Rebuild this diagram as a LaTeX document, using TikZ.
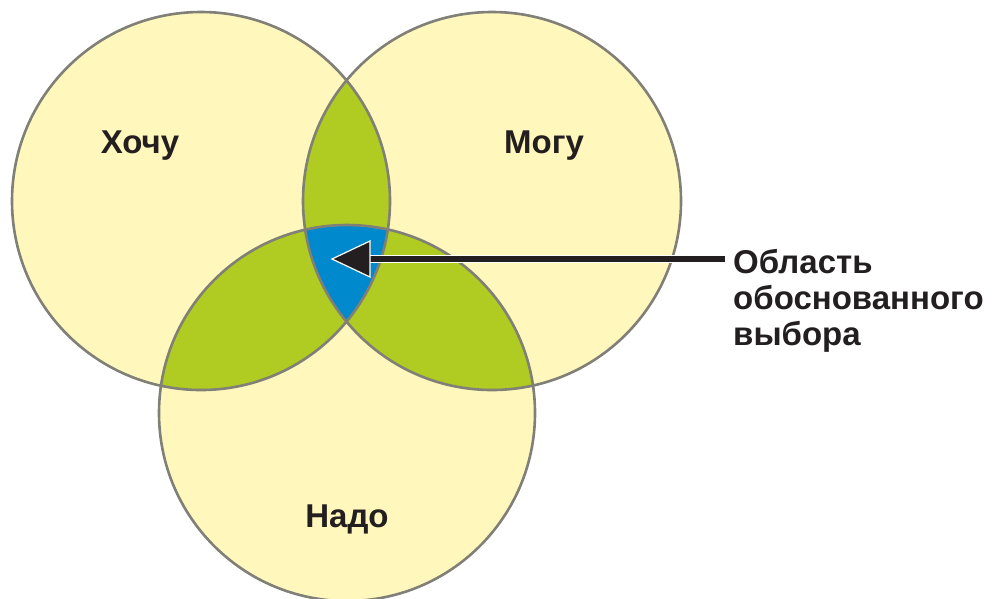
\documentclass[tikz,border=0pt]{standalone}
\usepackage{fontspec}
\setmainfont{Liberation Sans}
\usepackage{xcolor}
\usetikzlibrary{arrows.meta,positioning}
\definecolor{wishyellow}{RGB}{255,247,187}
\definecolor{overlapgreen}{RGB}{176,203,34}
\definecolor{choiceblue}{RGB}{0,137,204}
\definecolor{rimgray}{RGB}{128,128,120}
\definecolor{inkdark}{RGB}{35,31,32}
\tikzset{
  setrim/.style={draw=rimgray, line width=2.6pt},
  setlabel/.style={font=\fontsize{33}{36}\selectfont\bfseries, text=inkdark, inner sep=0pt, anchor=base},
  notelabel/.style={font=\fontsize{33}{36}\selectfont\bfseries, text=inkdark, inner sep=0pt, align=left, anchor=base west},
  pointer/.style={draw=inkdark, line width=6pt,
    preaction={draw=white, line width=8.5pt, shorten <=-1pt}},
  pointerhead/.style={fill=inkdark, draw=white, line width=1.2pt, line join=miter},
}
\newcommand{\wantset}{(201,201) circle[radius=189]}
\newcommand{\canset}{(492,201) circle[radius=189]}
\newcommand{\mustset}{(347,413) circle[radius=188]}

\begin{document}
\begin{tikzpicture}[x=1pt,y=-1pt]
  \fill[white] (0,0) rectangle (995,598);
  \useasboundingbox (0,0) rectangle (995,598);

  % circles
  \fill[wishyellow] \wantset \canset \mustset;
  \begin{scope}
    \clip \wantset;
    \fill[overlapgreen] \canset \mustset;
  \end{scope}
  \begin{scope}
    \clip \canset;
    \fill[overlapgreen] \mustset;
  \end{scope}
  \begin{scope}
    \clip \wantset;
    \clip \canset;
    \fill[choiceblue] \mustset;
  \end{scope}
  \draw[setrim] \wantset \canset \mustset;

  \node[setlabel] (want) at (140,153) {Хочу};
  \node[setlabel] (can) at (544,153) {Могу};
  \node[setlabel] (must) at (347,527) {Надо};

  \node[notelabel] (note) at (733,345) {Область\\обоснованного\\выбора};
  \coordinate (pick) at (332,259);
  \draw[pointer] ([xshift=-8pt]pick -| note.west) -- ([xshift=37pt]pick);
  \path[pointerhead] (pick) -- ++(38,-18) -- ++(0,36) -- cycle;
\end{tikzpicture}
\end{document}
